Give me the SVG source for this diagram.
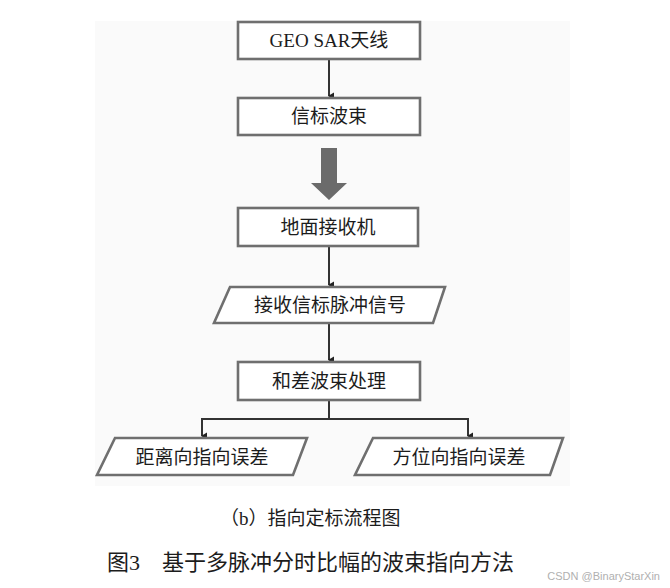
<svg xmlns="http://www.w3.org/2000/svg" width="670" height="588" viewBox="0 0 670 588">
<defs>
<style>
.bg{fill:#fafafa}
.box{fill:#ffffff;stroke:#6f6f6f;stroke-width:2.6}
.lbl{font-family:"Liberation Serif","Noto Sans CJK SC",serif;font-size:19px;fill:#1c1c1c;text-anchor:middle}
.con{stroke:#333;stroke-width:2;fill:none}
.cap{font-family:"Liberation Serif","Noto Sans CJK SC",serif;fill:#1c1c1c}
</style>
<marker id="ah" markerWidth="8" markerHeight="8" refX="4" refY="6" orient="auto" markerUnits="userSpaceOnUse">
<path d="M0.5,1 L7.5,1 L4,7 Z" fill="#222"/>
</marker>
</defs>
<rect class="bg" x="95" y="21" width="475" height="465"/>
<g id="connectors">
<line class="con" x1="329" y1="59" x2="329" y2="96" marker-end="url(#ah)"/>
<path d="M321,148 H337 V183 H347 L329,200 L311,183 H321 Z" fill="#6b6b6b"/>
<line class="con" x1="329" y1="246" x2="329" y2="285" marker-end="url(#ah)"/>
<line class="con" x1="329" y1="323" x2="329" y2="360" marker-end="url(#ah)"/>
<polyline class="con" points="329,400 329,419"/>
<polyline class="con" points="202,436 202,419 468,419 468,436" marker-start="none"/>
<line class="con" x1="202" y1="425" x2="202" y2="436" marker-end="url(#ah)"/>
<line class="con" x1="468" y1="425" x2="468" y2="436" marker-end="url(#ah)"/>
</g>
<g id="n1">
<rect class="box" x="238" y="22" width="182" height="37"/>
<text class="lbl" x="329" y="47">GEO SAR天线</text>
</g>
<g id="n2">
<rect class="box" x="238" y="98" width="182" height="37"/>
<text class="lbl" x="329" y="123">信标波束</text>
</g>
<g id="n3">
<rect class="box" x="238" y="208" width="180" height="38"/>
<text class="lbl" x="328" y="234">地面接收机</text>
</g>
<g id="n4">
<polygon class="box" points="230,287 445,287 433,323 214,323"/>
<text class="lbl" x="330" y="312">接收信标脉冲信号</text>
</g>
<g id="n5">
<rect class="box" x="238" y="362" width="182" height="38"/>
<text class="lbl" x="329" y="388">和差波束处理</text>
</g>
<g id="n6">
<polygon class="box" points="115,438 307,438 293,475 97,475"/>
<text class="lbl" x="202" y="464">距离向指向误差</text>
</g>
<g id="n7">
<polygon class="box" points="373,438 563,438 550,475 355,475"/>
<text class="lbl" x="459" y="464">方位向指向误差</text>
</g>
<text class="cap" x="220" y="525" font-size="19">（b）指向定标流程图</text>
<text class="cap" x="107" y="570" font-size="22">图3　基于多脉冲分时比幅的波束指向方法</text>
<text x="660" y="580" font-family="Liberation Sans,sans-serif" font-size="11" fill="#b0b0b0" text-anchor="end">CSDN @BinaryStarXin</text>
</svg>
